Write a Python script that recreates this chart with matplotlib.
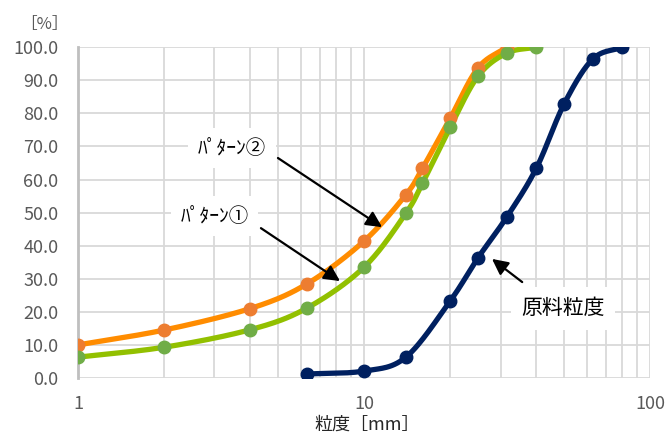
import numpy as np
import matplotlib
matplotlib.use("Agg")
import matplotlib.pyplot as plt
from matplotlib.ticker import FixedLocator, NullFormatter, FixedFormatter

plt.rcParams['font.family'] = ['Noto Sans CJK JP', 'DejaVu Sans']

# sieve sizes [mm] and passing percentages [%]
size_p2 = [1, 2, 4, 6.3, 10, 14, 16, 20, 25, 31.5]
pat2 = [10.0, 14.5, 21.0, 28.4, 41.4, 55.4, 63.4, 78.5, 93.7, 100.0]
size_p1 = [1, 2, 4, 6.3, 10, 14, 16, 20, 25, 31.5, 40]
pat1 = [6.3, 9.3, 14.6, 21.1, 33.5, 49.8, 58.9, 75.8, 91.2, 98.2, 100.0]

size_raw = [6.3, 10, 14, 20, 25, 31.5, 40, 50, 63, 80]
raw = [1.2, 2.1, 6.3, 23.3, 36.3, 48.6, 63.4, 82.8, 96.4, 100.0]

yticks = np.arange(0, 101, 10)
xticks = [1, 10, 100]


def smooth(xs, ys, n=30):
    # catmull-rom in log-x space, like excel "smoothed line"
    lx = np.log10(xs)
    ys = np.asarray(ys, float)
    px = np.concatenate([[2*lx[0]-lx[1]], lx, [2*lx[-1]-lx[-2]]])
    py = np.concatenate([[2*ys[0]-ys[1]], ys, [2*ys[-1]-ys[-2]]])
    ox, oy = [], []
    t = np.linspace(0, 1, n)
    for i in range(1, len(px)-2):
        for p, o in ((px, ox), (py, oy)):
            p0, p1, p2, p3 = p[i-1], p[i], p[i+1], p[i+2]
            m1 = (p2 - p0) / 6.0
            m2 = (p3 - p1) / 6.0
            c = ((2*t**3 - 3*t**2 + 1)*p1 + (t**3 - 2*t**2 + t)*3*m1
                 + (-2*t**3 + 3*t**2)*p2 + (t**3 - t**2)*3*m2)
            o.extend(c)
    return 10**np.array(ox), np.array(oy)


fig = plt.figure(figsize=(6.7, 4.37), dpi=100)
ax = fig.add_axes([0.1164, 0.135, 0.854, 0.757])

ax.set_xscale('log')
ax.set_xlim(1, 100)
ax.set_ylim(0, 100)
ax.set_yticks(yticks)
ax.set_yticklabels(['%.1f' % v for v in yticks])
ax.xaxis.set_major_locator(FixedLocator(xticks))
ax.xaxis.set_major_formatter(FixedFormatter([str(v) for v in xticks]))
ax.xaxis.set_minor_locator(FixedLocator([m*10**d for d in range(0, 2) for m in range(2, 10)]))
ax.xaxis.set_minor_formatter(NullFormatter())
ax.grid(True, which='both', color='#D9D9D9', lw=1.3, zorder=0)
ax.tick_params(which='both', length=0, labelsize=13, labelcolor='#595959')
ax.tick_params(axis='y', pad=14)
ax.tick_params(axis='x', pad=12)
for s in ['top', 'right', 'bottom']:
    ax.spines[s].set_visible(False)
ax.spines['left'].set_color('#BFBFBF')
ax.spines['left'].set_linewidth(2)

series = [
    (size_p2, pat2, '#FF8C00', '#ED7D31'),
    (size_p1, pat1, '#92C000', '#70AD47'),
    (size_raw, raw, '#002060', '#002060'),
]
for xs, ys, lc, mc in series:
    sx, sy = smooth(xs, ys)
    ax.plot(sx, sy, color=lc, lw=3.8, solid_capstyle='round', zorder=3)
    ax.plot(xs, ys, 'o', color=mc, ms=9, zorder=4)

fig.text(0.548, 0.028, '粒度［mm］', fontsize=13, color='#262626', ha='center', va='center')
fig.text(0.067, 0.943, '［%］', fontsize=12, color='#595959', ha='center', va='center')

arr = dict(arrowstyle='-|>', mutation_scale=24, lw=1.6, color='black',
           shrinkA=0, shrinkB=0)
box = dict(boxstyle='square,pad=0.5', fc='white', ec='none')
ax.text(3.45, 69.5, 'ﾊﾟﾀｰﾝ②', fontsize=14, ha='center', va='center', bbox=box, zorder=5)
ax.text(3.0, 48.9, 'ﾊﾟﾀｰﾝ①', fontsize=14, ha='center', va='center', bbox=box, zorder=5)
ax.text(49.6, 21.1, '原料粒度', fontsize=15, ha='center', va='center', bbox=box, zorder=5)
ax.annotate('', xy=(11.56, 45.6), xytext=(5.0, 66.5), arrowprops=arr, zorder=6)
ax.annotate('', xy=(8.24, 29.3), xytext=(4.36, 45.3), arrowprops=arr, zorder=6)
ax.annotate('', xy=(28.0, 36.0), xytext=(35.7, 29.0), arrowprops=arr, zorder=6)

fig.savefig('out.png', dpi=100)
